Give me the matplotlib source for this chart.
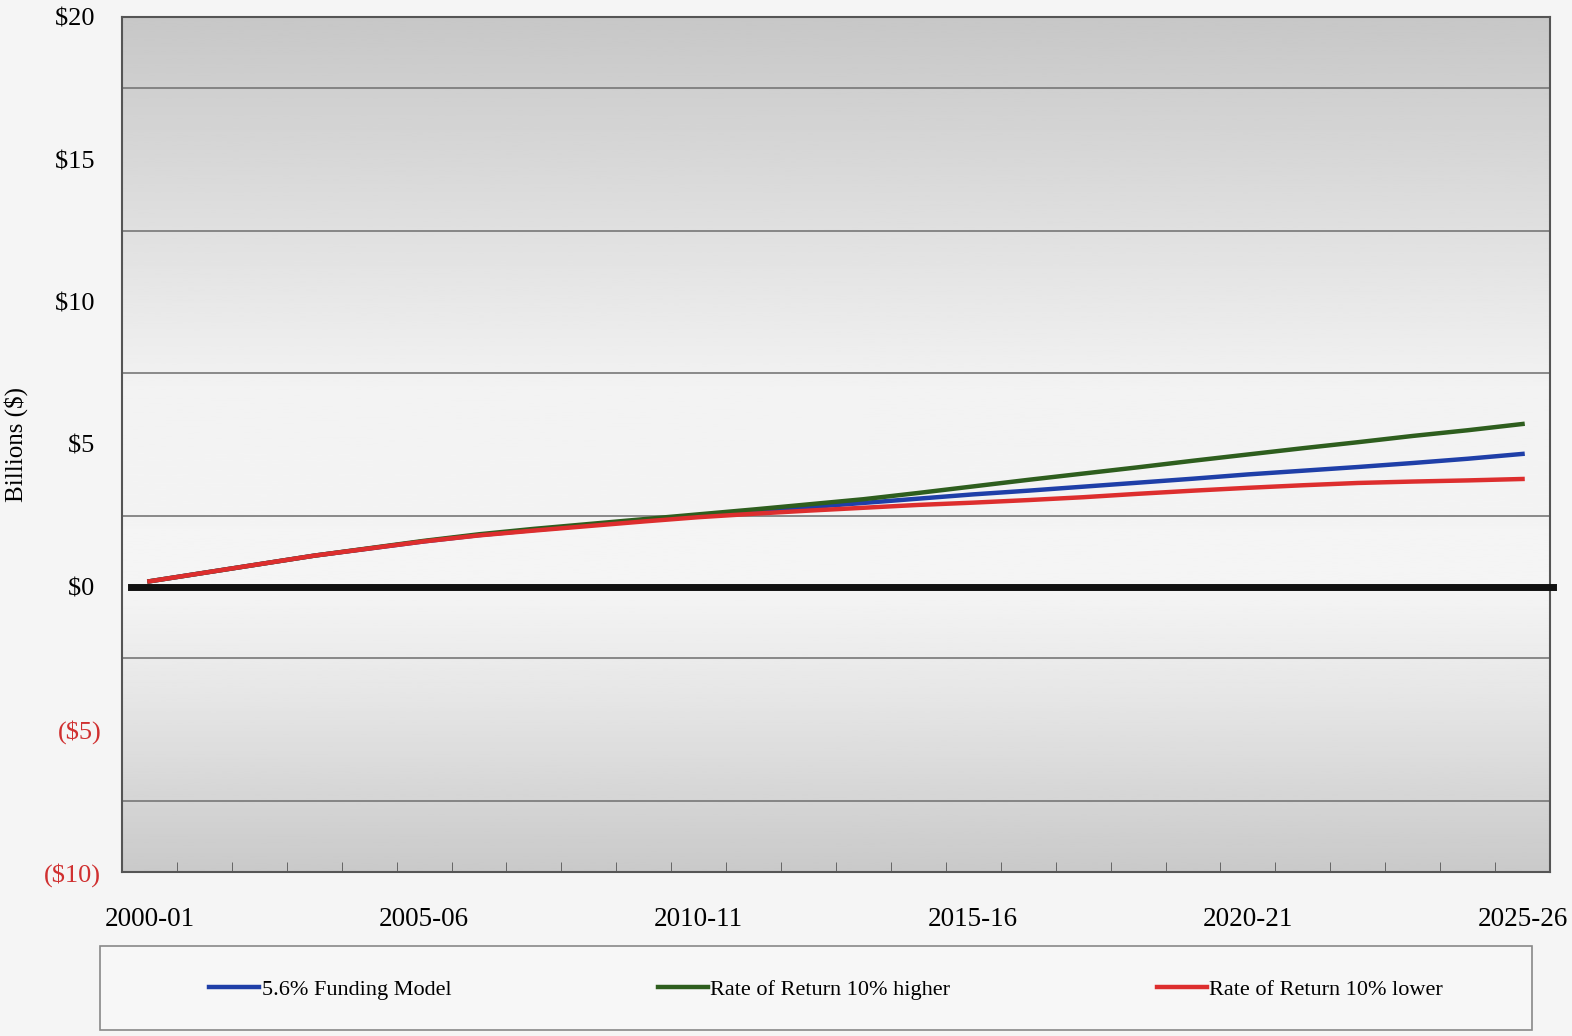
import numpy as np
import matplotlib.pyplot as plt
from matplotlib.patches import Rectangle

plt.rcParams['font.family'] = ['Liberation Serif', 'DejaVu Serif']

anos = [f'{a}-{(a + 1) % 100:02d}' for a in range(2000, 2026)]

modelo = [0.20, 0.50, 0.80, 1.10, 1.35, 1.60, 1.82, 2.00, 2.17, 2.33, 2.50,
          2.65, 2.80, 2.95, 3.10, 3.25, 3.38, 3.52, 3.66, 3.80, 3.95, 4.08,
          4.21, 4.35, 4.50, 4.67]
maior = [0.20, 0.50, 0.80, 1.10, 1.36, 1.62, 1.85, 2.04, 2.21, 2.38, 2.55,
         2.72, 2.90, 3.08, 3.30, 3.53, 3.76, 3.98, 4.20, 4.43, 4.65, 4.87,
         5.08, 5.30, 5.50, 5.72]
menor = [0.20, 0.50, 0.80, 1.10, 1.35, 1.60, 1.81, 1.98, 2.14, 2.30, 2.45,
         2.57, 2.68, 2.78, 2.88, 2.96, 3.05, 3.15, 3.27, 3.38, 3.48, 3.57,
         3.65, 3.70, 3.74, 3.79]

rotulos_y = ['($10)', '($5)', '$0 ', '$5 ', '$10 ', '$15 ', '$20 ']

series = {
    '5.6% Funding Model': (modelo, '#1f3fa8'),
    'Rate of Return 10% higher': (maior, '#2e5e1e'),
    'Rate of Return 10% lower': (menor, '#dd2e2e'),
}

fig = plt.figure(figsize=(15.72, 10.36), dpi=100, facecolor='#f5f5f5')
ax = fig.add_axes([122 / 1572, 1 - 872 / 1036, 1428 / 1572, 855 / 1036])

x = np.arange(len(anos))
ax.set_xlim(-0.5, len(anos) - 0.5)
ax.set_ylim(-10, 20)

# fundo em degradê (cinza em cima e embaixo, claro no meio)
yy = np.linspace(20, -10, 300)
tons = np.interp(yy, [-10, -4, 0, 7, 20], [0.79, 0.90, 0.96, 0.95, 0.78])
ax.imshow(tons[:, None], extent=(-0.5, len(anos) - 0.5, -10, 20), aspect='auto',
          cmap='gray', vmin=0, vmax=1, zorder=0)

ax.set_yticks(np.arange(-10, 20.1, 2.5), minor=True)
ax.grid(axis='y', which='minor', color='#777777', linewidth=1.2, zorder=1)
ax.set_yticks(np.arange(-10, 21, 5))
ax.set_yticklabels(rotulos_y, fontsize=19)
for lab in ax.get_yticklabels():
    if lab.get_text().startswith('('):
        lab.set_color('#d03030')
ax.tick_params(axis='y', which='both', length=0, pad=15)

ax.set_xticks(x[::5])
ax.set_xticklabels(anos[::5], fontsize=19.5)
ax.set_xticks(np.arange(-0.5, len(anos)), minor=True)
ax.tick_params(axis='x', which='major', length=0, pad=25)
ax.tick_params(axis='x', which='minor', direction='in', length=7, color='#555555')

for s in ax.spines.values():
    s.set_color('#555555')
    s.set_linewidth(1.5)

ax.axhline(0, xmin=0.006, xmax=1.002, color='#111111', linewidth=5, clip_on=False, zorder=3)

for nome in ['5.6% Funding Model', 'Rate of Return 10% higher', 'Rate of Return 10% lower']:
    vals, cor = series[nome]
    ax.plot(x, vals, color=cor, linewidth=3.2, label=nome, zorder=4)

ax.set_ylabel('Billions ($)', fontsize=18)
ax.yaxis.set_label_coords(-0.066, 0.5)

fig.patches.append(Rectangle((100 / 1572, 1 - 1030 / 1036), 1432 / 1572, 84 / 1036,
                             transform=fig.transFigure, facecolor='#f7f7f7',
                             edgecolor='#888888', linewidth=1.2))
handles, labels = ax.get_legend_handles_labels()
fig.legend(handles, labels, ncol=3, loc='center', bbox_to_anchor=(826 / 1572, 1 - 990 / 1036),
           frameon=False, fontsize=16, handlelength=2.25, handletextpad=0.1,
           columnspacing=9.3)

fig.savefig('out.png', dpi=100, facecolor=fig.get_facecolor())
